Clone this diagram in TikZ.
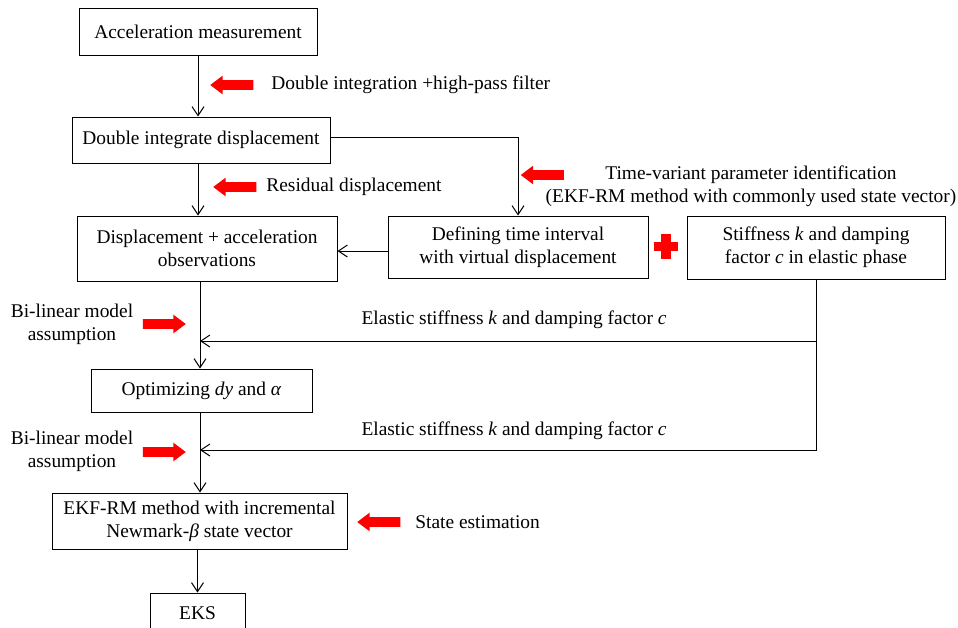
\documentclass[tikz,border=0pt]{standalone}
\usepackage{fontspec}
\setmainfont{Liberation Serif}
\usetikzlibrary{arrows.meta,shapes.arrows,positioning}

\begin{document}
\begin{tikzpicture}[x=0.5pt,y=-0.5pt,
  box/.style={draw, line width=0.5pt, align=center, inner sep=0pt, font=\fontsize{9.7}{11.5}\selectfont},
  lbl/.style={align=center, inner sep=0pt, font=\fontsize{9.7}{11.5}\selectfont},
  link/.style={line width=0.5pt, -{Straight Barb[length=4.5pt,width=6pt]}},
  redarrow/.style={single arrow, fill=red, draw=none, inner sep=2.25pt, minimum height=21.5pt,
    single arrow head extend=2.25pt, single arrow tip angle=74, single arrow head indent=0pt},
  toleft/.style={redarrow, shape border rotate=180}]
\useasboundingbox (0,0) rectangle (958,627);
\clip (0,0) rectangle (958,627);

% boxes
\node[box, minimum width=119pt, minimum height=23.5pt] (meas) at (198,31.5) {Acceleration measurement};
\node[box, minimum width=129pt, minimum height=23pt] (dint) at (201,140) {Double integrate displacement};
\node[box, minimum width=130pt, minimum height=32.5pt] (obs) at (207,248.5) {Displacement + acceleration\\observations};
\node[box, minimum width=130pt, minimum height=31pt] (tint) at (518,247) {Defining time interval\\with virtual displacement};
\node[box, minimum width=129pt, minimum height=31.5pt] (elas) at (816,247.5) {Stiffness \textit{k} and damping\\factor \textit{c} in elastic phase};
\node[box, minimum width=110.5pt, minimum height=21.5pt] (opt) at (201.5,390.5) {Optimizing \textit{dy} and \textit{α}};
\node[box, minimum width=147.5pt, minimum height=28pt] (ekf) at (199.5,521) {EKF-RM method with incremental\\Newmark-\textit{β} state vector};
\node[box, minimum width=47.5pt, minimum height=20pt] (eks) at (197.5,613) {EKS};

% labels
\node[lbl, anchor=west] (lint) at (271,85) {Double integration +high-pass filter};
\node[lbl, anchor=west] (lres) at (266,187) {Residual displacement};
\node[lbl] (lid) at (751,186) {Time-variant parameter identification\\(EKF-RM method with commonly used state vector)};
\node[lbl] (lk1) at (514,320) {Elastic stiffness \textit{k} and damping factor \textit{c}};
\node[lbl] (lk2) at (514,431) {Elastic stiffness \textit{k} and damping factor \textit{c}};
\node[lbl] (lbi1) at (72,324) {Bi-linear model\\assumption};
\node[lbl] (lbi2) at (72,451) {Bi-linear model\\assumption};
\node[lbl, anchor=west] (lest) at (415,522) {State estimation};

% red marks
\node[toleft] (ra1) at (235,85) {};
\node[toleft] (ra2) at (238,187) {};
\node[toleft] (ra3) at (545.5,175) {};
\node[redarrow] (ra4) at (161,324) {};
\node[redarrow] (ra5) at (161,452) {};
\node[toleft] (ra6) at (382,522) {};
\coordinate (plus) at (666,246.5);
\fill[red] ([xshift=-6pt,yshift=-2.35pt]plus) rectangle ([xshift=6pt,yshift=2.35pt]plus);
\fill[red] ([xshift=-2.4pt,yshift=-6.2pt]plus) rectangle ([xshift=2.4pt,yshift=6.2pt]plus);

% connectors
\coordinate (m1) at (200,341);
\coordinate (m2) at (200,450);
\draw[link] (meas.south) -- (meas.south |- dint.north);
\draw[link] (dint.south -| meas.south) -- (meas.south |- obs.north);
\draw[link] (dint.east |- 0,137) -| (tint.north);
\draw[link] (tint.west |- 0,251) -- (obs.east |- 0,251);
\draw[link] (m1 |- obs.south) -- (m1 |- opt.north);
\draw[link] (m1 |- opt.south) -- (m1 |- ekf.north);
\draw[link] (ekf.south -| eks.north) -- (eks.north);
\draw[link] (elas.south) |- (m2);
\draw[link] (elas.south |- m1) -- (m1);
\end{tikzpicture}
\end{document}
